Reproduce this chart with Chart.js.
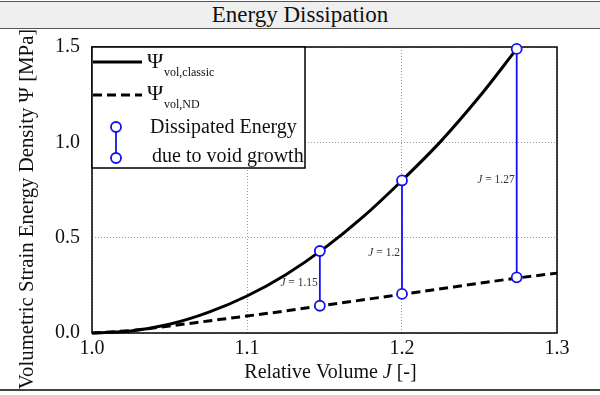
<!DOCTYPE html>
<html>
<head>
<meta charset="utf-8">
<script src="https://cdn.jsdelivr.net/npm/chart.js@4.4.1/dist/chart.umd.min.js"></script>
<style>
  html, body { margin:0; padding:0; background:#fff; }
  #wrap { position:relative; width:600px; height:395px; overflow:hidden; }
  #bar { position:absolute; left:0; top:1px; width:600px; height:26px; background:#efefef;
         border-top:1.5px solid #555; border-bottom:1.5px solid #555;
         font-family:"Liberation Serif", serif; font-size:23px; line-height:26px; text-align:center; color:#111; }
  #bottomline { position:absolute; left:0; top:389px; width:600px; height:2px; background:#444; }
  canvas { position:absolute; left:0; top:0; }
</style>
</head>
<body>
<div id="wrap">
  <canvas id="c" width="600" height="395"></canvas>
  <div id="bar">Energy Dissipation</div>
  <div id="bottomline"></div>
</div>
<script>
// ---- data ----
const classicJ   = [1.000, 1.025, 1.050, 1.075, 1.100, 1.125, 1.150, 1.175, 1.200, 1.225, 1.250, 1.274];
const classicPsi = [0.000, 0.011, 0.046, 0.108, 0.194, 0.306, 0.445, 0.610, 0.800, 1.005, 1.240, 1.490];
const ndJ        = [1.000, 1.025, 1.050, 1.075, 1.100, 1.125, 1.150, 1.175, 1.200, 1.225, 1.250, 1.275, 1.300];
const ndPsi      = [0.000, 0.013, 0.037, 0.063, 0.089, 0.116, 0.145, 0.174, 0.203, 0.232, 0.261, 0.289, 0.314];
const dissJ      = [1.147, 1.200, 1.274];
const dissLow    = [0.143, 0.205, 0.292];
const dissHigh   = [0.430, 0.800, 1.490];
const dissText   = ['1.15', '1.2', '1.27'];
const xTicks     = [1.0, 1.1, 1.2, 1.3];
const yTicks     = [0.0, 0.5, 1.0, 1.5];

const SERIF = '"Liberation Serif", "Times New Roman", serif';
const BLUE = '#1212ee';
const labelAnchorY = [0.262, 0.419, 0.805];

function pts(xs, ys) { return xs.map((x, i) => ({x: x, y: ys[i]})); }

function drawRich(ctx, parts, x, y, align) {
  let w = 0;
  parts.forEach(p => { ctx.font = p.f; p.w = ctx.measureText(p.t).width; w += p.w; });
  let cx = align === 'center' ? x - w / 2 : (align === 'right' ? x - w : x);
  ctx.textAlign = 'left';
  parts.forEach(p => { ctx.font = p.f; ctx.fillText(p.t, cx, y + (p.dy || 0)); cx += p.w; });
}

const decor = {
  id: 'decor',
  beforeDatasetsDraw(chart) {
    const {ctx, chartArea: a} = chart;
    ctx.save();
    ctx.strokeStyle = '#000';
    ctx.lineWidth = 1.5;
    ctx.strokeRect(a.left, a.top, a.right - a.left, a.bottom - a.top);
    ctx.restore();
  },
  afterDraw(chart) {
    const {ctx, chartArea: a, scales} = chart;
    const xs = scales.x, ys = scales.y;
    ctx.save();
    // annotation labels
    ctx.fillStyle = '#333';
    ctx.textBaseline = 'middle';
    dissJ.forEach((j, i) => {
      const px = xs.getPixelForValue(j) - 2;
      const py = ys.getPixelForValue(labelAnchorY[i]);
      drawRich(ctx, [
        {t: 'J', f: 'italic 11.5px ' + SERIF},
        {t: ' = ' + dissText[i], f: '11.5px ' + SERIF}
      ], px, py, 'right');
    });

    // axis titles
    ctx.fillStyle = '#111';
    ctx.textBaseline = 'middle';
    drawRich(ctx, [
      {t: 'Relative Volume ', f: '20px ' + SERIF},
      {t: 'J', f: 'italic 20px ' + SERIF},
      {t: ' [-]', f: '20px ' + SERIF}
    ], (a.left + a.right) / 2 + 6, 373, 'center');
    ctx.save();
    ctx.translate(28, 209);
    ctx.rotate(-Math.PI / 2);
    drawRich(ctx, [{t: 'Volumetric Strain Energy Density \u03A8 [MPa]', f: '20.8px ' + SERIF}], 0, 0, 'center');
    ctx.restore();

    // legend box
    const L = a.left, T = a.top, R = 305, B = 168;
    ctx.fillStyle = '#fff';
    ctx.fillRect(L, T, R - L, B - T);
    ctx.strokeStyle = '#000';
    ctx.lineWidth = 1.5;
    ctx.strokeRect(L, T, R - L, B - T);

    ctx.lineWidth = 3;
    ctx.beginPath(); ctx.moveTo(L + 1, 62); ctx.lineTo(142, 62); ctx.stroke();
    ctx.setLineDash([9, 5]);
    ctx.beginPath(); ctx.moveTo(L + 1, 95); ctx.lineTo(142, 95); ctx.stroke();
    ctx.setLineDash([]);

    ctx.strokeStyle = BLUE;
    ctx.lineWidth = 1.8;
    ctx.beginPath(); ctx.moveTo(116, 127); ctx.lineTo(116, 158); ctx.stroke();
    [127, 158].forEach(cy => {
      ctx.beginPath(); ctx.arc(116, cy, 5, 0, Math.PI * 2);
      ctx.fillStyle = '#fff'; ctx.fill(); ctx.stroke();
    });

    ctx.fillStyle = '#111';
    ctx.textBaseline = 'alphabetic';
    drawRich(ctx, [{t: '\u03A8', f: '22px ' + SERIF}], 147, 68, 'left');
    drawRich(ctx, [{t: 'vol,classic', f: '12px ' + SERIF}], 164, 76, 'left');
    drawRich(ctx, [{t: '\u03A8', f: '22px ' + SERIF}], 147, 100, 'left');
    drawRich(ctx, [{t: 'vol,ND', f: '12px ' + SERIF}], 164, 108, 'left');
    drawRich(ctx, [{t: 'Dissipated Energy', f: '20px ' + SERIF}], 150, 133, 'left');
    drawRich(ctx, [{t: 'due to void growth', f: '20px ' + SERIF}], 152, 162, 'left');
    ctx.restore();
  }
};

const dissSets = dissJ.map((j, i) => ({
  data: [{x: j, y: dissLow[i]}, {x: j, y: dissHigh[i]}],
  borderColor: BLUE, borderWidth: 1.8,
  pointRadius: 5, pointBorderWidth: 1.8,
  pointBackgroundColor: '#fff', pointBorderColor: BLUE,
  clip: false
}));

new Chart(document.getElementById('c'), {
  type: 'line',
  data: {
    datasets: [
      ...dissSets,
      { data: pts(classicJ, classicPsi), borderColor: '#000', borderWidth: 3, pointRadius: 0,
        cubicInterpolationMode: 'monotone', clip: 4 },
      { data: pts(ndJ, ndPsi), borderColor: '#000', borderWidth: 3, borderDash: [9, 5], pointRadius: 0,
        cubicInterpolationMode: 'monotone', clip: 4 }
    ]
  },
  options: {
    responsive: false,
    animation: false,
    events: [],
    layout: { padding: { left: 0, top: 47, right: 43, bottom: 0 } },
    plugins: { legend: { display: false }, tooltip: { enabled: false }, title: { display: false } },
    scales: {
      x: {
        type: 'linear', min: 1.0, max: 1.3,
        afterFit(s) { s.height = 62; },
        afterBuildTicks(s) { s.ticks = xTicks.map(v => ({value: v})); },
        ticks: { padding: 4, color: '#111', font: { family: SERIF, size: 20 },
                 callback: v => v.toFixed(1), maxRotation: 0 },
        grid: { color: '#9a9a9a', lineWidth: 1, drawTicks: false },
        border: { display: false, dash: [1, 2] }
      },
      y: {
        type: 'linear', min: 0, max: 1.5,
        afterFit(s) { s.width = 92; },
        afterBuildTicks(s) { s.ticks = yTicks.map(v => ({value: v})); },
        ticks: { padding: 12, color: '#111', font: { family: SERIF, size: 20 },
                 callback: v => v.toFixed(1) },
        grid: { color: '#9a9a9a', lineWidth: 1, drawTicks: false },
        border: { display: false, dash: [1, 2] }
      }
    }
  },
  plugins: [decor]
});
</script>
</body>
</html>
